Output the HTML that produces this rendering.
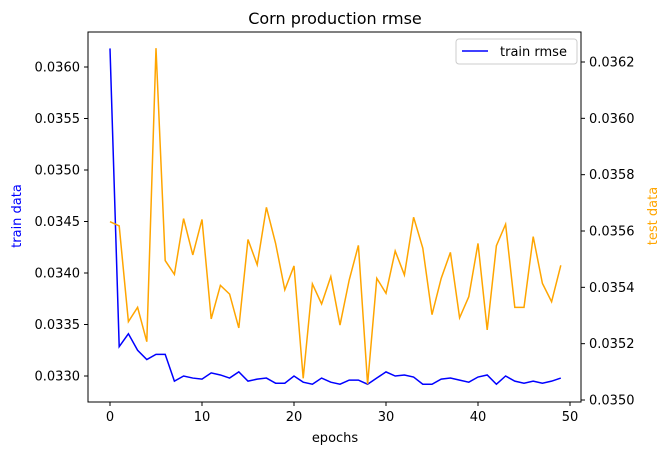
<!DOCTYPE html>
<html><head><meta charset="utf-8"><style>
body{margin:0;background:#fff;}
svg{display:block;font-family:"DejaVu Sans","Liberation Sans",sans-serif;}
</style></head><body>
<svg id="chart" width="671" height="455" viewBox="0 0 671 455">
<rect width="671" height="455" fill="#fff"/>
<text x="335" y="24" font-size="16" text-anchor="middle">Corn production rmse</text>
<g id="plot"></g>
<rect x="88" y="32" width="493" height="370" fill="none" stroke="#000" stroke-width="1"/>
<text x="335" y="442" font-size="13" text-anchor="middle">epochs</text>
<text x="21" y="216" font-size="13" fill="blue" text-anchor="middle" transform="rotate(-90 21 216)">train data</text>
<text x="657" y="216" font-size="13" fill="orange" text-anchor="middle" transform="rotate(-90 657 216)">test data</text>
<g>
<rect x="456" y="39" width="121" height="25" rx="3" fill="#fff" fill-opacity="0.8" stroke="#ccc"/>
<line x1="462" y1="51" x2="488" y2="51" stroke="blue" stroke-width="1.5"/>
<text x="500" y="56" font-size="13">train rmse</text>
</g>
</svg>
<script>
const epochs=[];for(let i=0;i<50;i++)epochs.push(i);
const trainRmse=[0.03618,0.033285,0.03341,0.03325,0.03316,0.03321,0.03321,0.03295,0.03300,0.03298,0.03297,0.03303,0.03301,0.03298,0.03304,0.03295,0.03297,0.03298,0.03293,0.03293,0.03300,0.03294,0.03292,0.03298,0.03294,0.03292,0.03296,0.03296,0.03292,0.03298,0.03304,0.03300,0.03301,0.03299,0.03292,0.03292,0.03297,0.03298,0.03296,0.03294,0.03299,0.03301,0.03292,0.03300,0.03295,0.03293,0.03295,0.03293,0.03295,0.03298];
const testRmse=[0.035633,0.035618,0.035278,0.035329,0.035207,0.036249,0.035495,0.035446,0.035644,0.035515,0.035641,0.035288,0.035407,0.035376,0.035256,0.035570,0.035480,0.035684,0.035556,0.035391,0.035476,0.035077,0.035412,0.035341,0.035438,0.035266,0.035426,0.035549,0.035056,0.035432,0.035379,0.035529,0.035444,0.035649,0.035539,0.035303,0.035432,0.035524,0.035292,0.035367,0.035556,0.035249,0.035548,0.035624,0.035329,0.035329,0.035580,0.035414,0.035349,0.035478];
const xTicks=[0,10,20,30,40,50];
const leftTicks=[0.0330,0.0335,0.0340,0.0345,0.0350,0.0355,0.0360];
const rightTicks=[0.0350,0.0352,0.0354,0.0356,0.0358,0.0360,0.0362];

const NS="http://www.w3.org/2000/svg";
const plot=document.getElementById('plot');
function xs(v){return 110+(v-0)*(460/50);}
function yl(v){return 376-(v-0.0330)*(309/0.0030);}
function yr(v){return 400-(v-0.0350)*(338/0.0012);}
function mk(tag,attrs){const e=document.createElementNS(NS,tag);for(const k in attrs)e.setAttribute(k,attrs[k]);plot.appendChild(e);return e;}

xTicks.forEach(t=>{
  const l=mk('line',{x1:xs(t),x2:xs(t),y1:402,y2:406,stroke:'#000'});
  
  
  const tx=mk('text',{x:xs(t),y:421,'font-size':13,'text-anchor':'middle'});
  tx.textContent=t;
  
  
});
leftTicks.forEach(t=>{
  const l=mk('line',{x1:84,x2:88,y1:yl(t),y2:yl(t),stroke:'#000'});
  
  
  const tx=mk('text',{x:80,y:yl(t)+4.5,'font-size':13,'text-anchor':'end'});
  tx.textContent=t.toFixed(4);
  
  
});
rightTicks.forEach(t=>{
  const l=mk('line',{x1:581,x2:585,y1:yr(t),y2:yr(t),stroke:'#000'});
  
  
  const tx=mk('text',{x:589,y:yr(t)+4.5,'font-size':13});
  tx.textContent=t.toFixed(4);
  
  
});
const tl=mk('polyline',{points:epochs.map((e,i)=>xs(e)+','+yl(trainRmse[i])).join(' '),fill:'none',stroke:'blue','stroke-width':1.5});


const te=mk('polyline',{points:epochs.map((e,i)=>xs(e)+','+yr(testRmse[i])).join(' '),fill:'none',stroke:'orange','stroke-width':1.5});


</script>
</body></html>
